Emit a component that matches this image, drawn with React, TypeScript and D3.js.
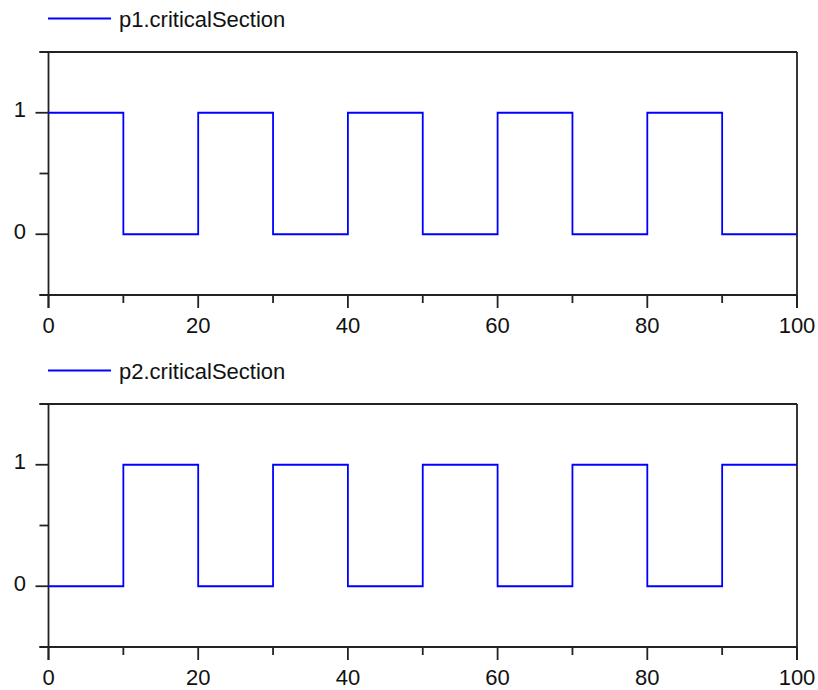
import React from "react";
import * as d3 from "d3";

const times = [0, 10, 20, 30, 40, 50, 60, 70, 80, 90, 100];
const p1Values = [1, 0, 1, 0, 1, 0, 1, 0, 1, 0, 0];
const p2Values = [0, 1, 0, 1, 0, 1, 0, 1, 0, 1, 1];
const seriesNames = ["p1.criticalSection", "p2.criticalSection"];
const xTicks = [0, 20, 40, 60, 80, 100];
const xMinorTicks = [10, 30, 50, 70, 90];
const yTicks = [0, 1];
const yMinorTicks = [-0.5, 0.5, 1.5];

const W = 818;
const H = 690;
const left = 48.5;
const right = 797;

function Panel({ top, values, name }: { top: number; values: number[]; name: string }) {
  const x = d3.scaleLinear().domain([0, 100]).range([left, right]);
  const plotTop = top;
  const plotBottom = top + 243;
  const y = d3.scaleLinear().domain([-0.5, 1.5]).range([plotBottom, plotTop]);
  const pts: [number, number][] = times.map((t, i) => [t, values[i]]);
  const line = d3
    .line<[number, number]>()
    .x((d) => x(d[0]))
    .y((d) => y(d[1]))
    .curve(d3.curveStepAfter);
  const axisColor = "#222";
  const sw = 1.8;
  const font = "'Liberation Sans', Arial, sans-serif";
  return (
    <g>
      {/* legend */}
      <line x1={48} x2={111} y1={plotTop - 33.5} y2={plotTop - 33.5} stroke="#0000ff" strokeWidth={1.8} />
      <text x={119} y={plotTop - 25} fontFamily={font} fontSize={22} fill="#111">
        {name}
      </text>
      {/* frame */}
      <line x1={left - 9} x2={right} y1={plotTop} y2={plotTop} stroke={axisColor} strokeWidth={sw} />
      <line x1={right} x2={right} y1={plotTop} y2={plotBottom + 13} stroke={axisColor} strokeWidth={sw} />
      <line x1={left} x2={left} y1={plotTop} y2={plotBottom + 13} stroke={axisColor} strokeWidth={sw} />
      <line x1={left - 9} x2={right} y1={plotBottom} y2={plotBottom} stroke={axisColor} strokeWidth={sw} />
      {xTicks.map((t) => (
        <g key={"xt" + t}>
          <line x1={x(t)} x2={x(t)} y1={plotBottom} y2={plotBottom + 13} stroke={axisColor} strokeWidth={sw} />
          <text x={x(t)} y={plotBottom + 38} textAnchor="middle" fontFamily={font} fontSize={22} fill="#111">
            {t}
          </text>
        </g>
      ))}
      {xMinorTicks.map((t) => (
        <line key={"xm" + t} x1={x(t)} x2={x(t)} y1={plotBottom} y2={plotBottom + 8} stroke={axisColor} strokeWidth={sw} />
      ))}
      {yTicks.map((t) => (
        <g key={"yt" + t}>
          <line x1={left - 13} x2={left} y1={y(t)} y2={y(t)} stroke={axisColor} strokeWidth={sw} />
          <text x={26} y={y(t) + 4.5} textAnchor="end" fontFamily={font} fontSize={22} fill="#111">
            {t}
          </text>
        </g>
      ))}
      {yMinorTicks.map((t) => (
        <line key={"ym" + t} x1={left - 9} x2={left} y1={y(t)} y2={y(t)} stroke={axisColor} strokeWidth={sw} />
      ))}
      <path d={line(pts) || ""} fill="none" stroke="#0000ff" strokeWidth={1.8} />
    </g>
  );
}

export default function App() {
  return (
    <svg width={W} height={H} style={{ position: "absolute", left: 0, top: 0, background: "#fff" }}>
      <rect width={W} height={H} fill="#fff" />
      <Panel top={52} values={p1Values} name={seriesNames[0]} />
      <Panel top={404} values={p2Values} name={seriesNames[1]} />
    </svg>
  );
}
